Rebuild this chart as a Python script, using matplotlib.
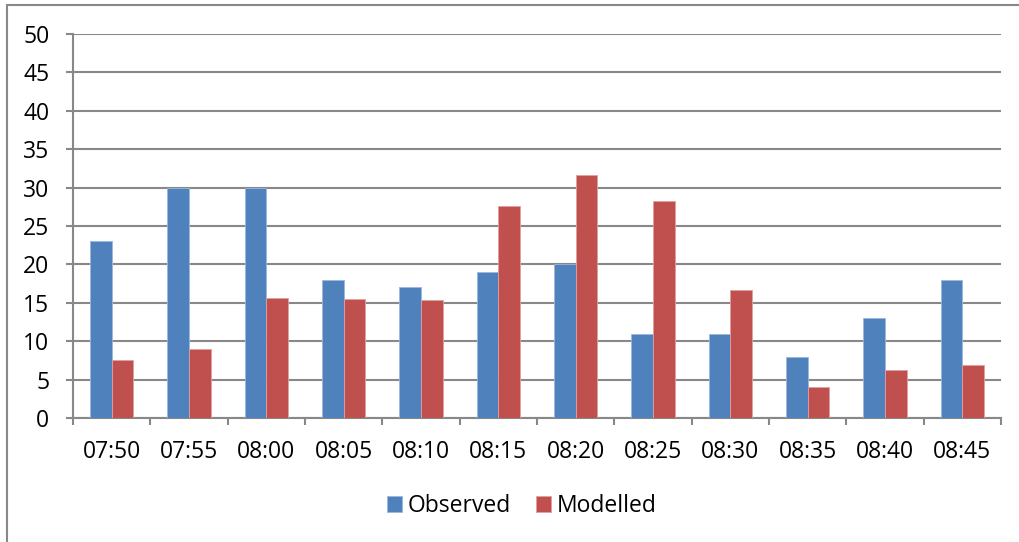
import numpy as np
import matplotlib.pyplot as plt
from matplotlib.patches import Rectangle

# 5-minute intervals
times = ["07:50", "07:55", "08:00", "08:05", "08:10", "08:15",
         "08:20", "08:25", "08:30", "08:35", "08:40", "08:45"]
observed = [23, 30, 30, 18, 17, 19, 20, 11, 11, 8, 13, 18]
modelled = [7.5, 9.0, 15.6, 15.5, 15.4, 27.6, 31.6, 28.2, 16.7, 4.0, 6.3, 6.9]
y_ticks = [0, 5, 10, 15, 20, 25, 30, 35, 40, 45, 50]

BLUE = "#4F81BD"
RED = "#C0504D"
GRID = "#888888"
FS = 16.5

plt.rcParams["font.family"] = ["Open Sans", "DejaVu Sans"]

fig = plt.figure(figsize=(10.19, 5.42), dpi=100)
ax = fig.add_axes([73 / 1019, 1 - 418 / 542, (1001 - 73) / 1019, (418 - 34) / 542])

# chart border around everything
fig.patches.append(Rectangle((7 / 1019, -0.1), 1.2, 1 - 5 / 542 + 0.1,
                             transform=fig.transFigure, fill=False,
                             edgecolor=GRID, linewidth=1.5, zorder=0))

x = np.arange(len(times))
w = 0.28
ax.bar(x - w / 2, observed, w, color=BLUE, edgecolor="#9bb7dc", linewidth=0.6,
       label="Observed", zorder=3)
ax.bar(x + w / 2, modelled, w, color=RED, edgecolor="#e0a09e", linewidth=0.6,
       label="Modelled", zorder=3)

ax.set_xlim(-0.5, len(times) - 0.5)
ax.set_ylim(0, 50)
ax.set_yticks(y_ticks)
ax.yaxis.grid(True, color=GRID, linewidth=1.5)
ax.set_axisbelow(True)

# category labels centred, ticks on the boundaries
ax.set_xticks(x)
ax.set_xticklabels(times)
ax.set_xticks(np.arange(len(times) + 1) - 0.5, minor=True)
ax.tick_params(axis="x", which="major", length=0, pad=16, labelsize=FS)
ax.tick_params(axis="x", which="minor", length=5, width=1.5, color=GRID,
               direction="out")
ax.tick_params(axis="y", length=5, width=1.5, color=GRID, pad=12,
               labelsize=FS)

for side in ["top", "right"]:
    ax.spines[side].set_visible(False)
for side in ["left", "bottom"]:
    ax.spines[side].set_color(GRID)
    ax.spines[side].set_linewidth(1.5)

fig.legend(loc="center", bbox_to_anchor=(522 / 1019, 1 - 506 / 542), ncol=2,
           frameon=False, fontsize=FS, handlelength=0.65, handleheight=0.65,
           handletextpad=0.25, columnspacing=1.1)

fig.savefig("out.png", dpi=100)
